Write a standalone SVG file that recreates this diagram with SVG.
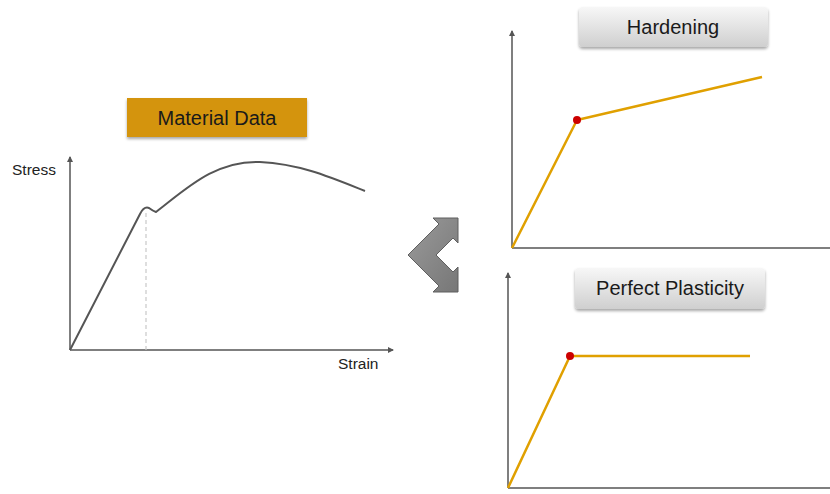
<svg xmlns="http://www.w3.org/2000/svg" width="830" height="494" viewBox="0 0 830 494">
<defs>
<linearGradient id="gbox" x1="0" y1="0" x2="0" y2="1">
<stop offset="0" stop-color="#f7f7f7"/>
<stop offset="1" stop-color="#cfcfcf"/>
</linearGradient>
<linearGradient id="garrow" x1="0" y1="0" x2="1" y2="1">
<stop offset="0" stop-color="#9a9a9a"/>
<stop offset="1" stop-color="#777777"/>
</linearGradient>
<filter id="sh" x="-10%" y="-20%" width="120%" height="150%">
<feGaussianBlur in="SourceAlpha" stdDeviation="1.5"/>
<feOffset dx="0" dy="2" result="b"/>
<feComponentTransfer><feFuncA type="linear" slope="0.35"/></feComponentTransfer>
<feMerge><feMergeNode/><feMergeNode in="SourceGraphic"/></feMerge>
</filter>
<marker id="ax" viewBox="0 0 6 6" refX="5" refY="3" markerWidth="6" markerHeight="6" orient="auto" markerUnits="userSpaceOnUse">
<path d="M0,0 L6,3 L0,6 Z" fill="#555"/>
</marker>
</defs>
<style>
.axis{stroke:#555;stroke-width:1.5;fill:none}
.curve{stroke:#555;stroke-width:2;fill:none;stroke-linejoin:round}
.model{stroke:#E0A000;stroke-width:2.5;fill:none;stroke-linejoin:round}
.dot{fill:#CC0000}
.lbl{font-family:"Liberation Sans",Arial,sans-serif;fill:#222}
.title{font-family:"Liberation Sans",Arial,sans-serif;font-size:20px;fill:#1a1a1a;text-anchor:middle}
.gray{fill:url(#gbox);filter:url(#sh)}
</style>
<rect width="830" height="494" fill="#ffffff"/>

<g id="material-data">
<rect x="127" y="98" width="180" height="39" fill="#D4940A" filter="url(#sh)"/>
<text class="title" x="217" y="125">Material Data</text>
</g>

<g id="stress-strain-chart">
<line class="axis" x1="70" y1="350" x2="70" y2="157" marker-end="url(#ax)"/>
<line class="axis" x1="70" y1="350" x2="393" y2="350" marker-end="url(#ax)"/>
<line x1="146" y1="213" x2="146" y2="350" stroke="#c8c8c8" stroke-width="1.2" stroke-dasharray="4,3"/>
<path class="curve" d="M70,350 L140,214 Q144,206 149,208 Q153,211 156,212 C185,190 215,160 260,162 C300,164 330,177 365,191"/>
<text class="lbl" x="12" y="175" font-size="15.5">Stress</text>
<text class="lbl" x="338" y="369" font-size="15.5">Strain</text>
</g>

<g id="switch-arrow">
<path d="M408,255 L439,224 L433,218 L458,218 L458,243 L453,238 L436,255 L453,272 L458,267 L458,292 L433,292 L439,286 Z" fill="url(#garrow)" stroke="#5f5f5f" stroke-width="1"/>
</g>

<g id="hardening">
<line class="axis" x1="512" y1="248" x2="512" y2="31" marker-end="url(#ax)"/>
<line class="axis" x1="512" y1="248" x2="830" y2="248"/>
<polyline class="model" points="512,248 577,120 762,77"/>
<circle class="dot" cx="577" cy="120" r="4"/>
<rect class="gray" x="579" y="7" width="189" height="40" rx="4"/>
<text class="title" x="673" y="34">Hardening</text>
</g>

<g id="perfect-plasticity">
<line class="axis" x1="508" y1="488" x2="508" y2="273" marker-end="url(#ax)"/>
<line class="axis" x1="508" y1="488" x2="830" y2="488"/>
<polyline class="model" points="508,488 570,356 750,356"/>
<circle class="dot" cx="570" cy="356" r="4"/>
<rect class="gray" x="575" y="268" width="190" height="41" rx="4"/>
<text class="title" x="670" y="295">Perfect Plasticity</text>
</g>
</svg>
